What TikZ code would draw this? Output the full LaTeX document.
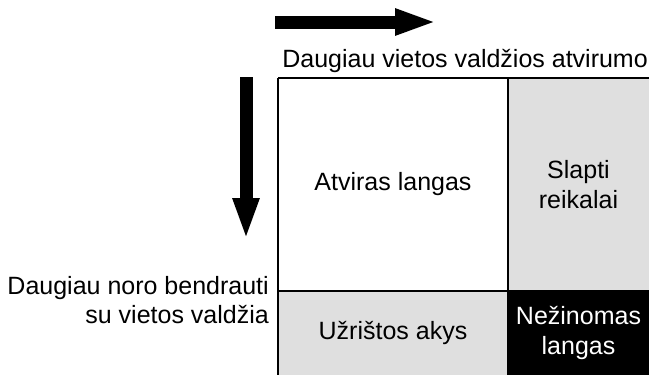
\documentclass[tikz,border=0pt]{standalone}
\usepackage{fontspec}
\setmainfont{Liberation Sans}
\usetikzlibrary{arrows.meta}

\definecolor{cellgray}{RGB}{223,223,223}

\tikzset{
  cell/.style={inner sep=0pt, outer sep=0pt, anchor=north west, align=center,
    font=\fontsize{25}{29.5}\selectfont},
  lbl/.style={inner sep=0pt, font=\fontsize{25}{29.5}\selectfont},
  bigarrow/.style={line width=13pt, -{Triangle[length=42pt,width=24pt]}}
}

\begin{document}
\begin{tikzpicture}[x=1pt,y=-1pt]
        \useasboundingbox (0,0) rectangle (649,375);

        % The four cells
        \node[cell, fill=white, minimum width=230pt, minimum height=213pt] (open) at (278,78) {Atviras langas};
        \node[cell, fill=cellgray, minimum width=141pt, minimum height=213pt] (secret) at (508,78) {Slapti\\reikalai};
        \node[cell, fill=cellgray, minimum width=230pt, minimum height=84pt] (blind) at (278,291) {Užrištos akys};
        \node[cell, fill=black, text=white, minimum width=141pt, minimum height=84pt] (unknown) at (508,291) {Nežinomas\\langas};

        % Grid lines
        \draw[line width=2pt] (open.north west) -- (secret.north east);
        \draw[line width=2pt] (open.north west) -- (blind.south west);
        \draw[line width=2pt] (open.north east) -- (blind.south east);
        \draw[line width=2pt] (blind.north west) -- (unknown.north east);

        % Axis labels
        \node[lbl, anchor=east] (toplabel) at (648,61) {Daugiau vietos valdžios atvirumo};
        \node[lbl, anchor=east, align=right] (leftlabel) at (269,300) {Daugiau noro bendrauti\\su vietos valdžia};

        % Direction arrows
        \coordinate (hstart) at (275,22);
        \coordinate (hend) at (437,22);
        \coordinate (vstart) at (246,77);
        \coordinate (vend) at (246,240);
        \draw[bigarrow] (hstart) -- (hend);
        \draw[bigarrow] (vstart) -- (vend);
    \end{tikzpicture}
\end{document}
